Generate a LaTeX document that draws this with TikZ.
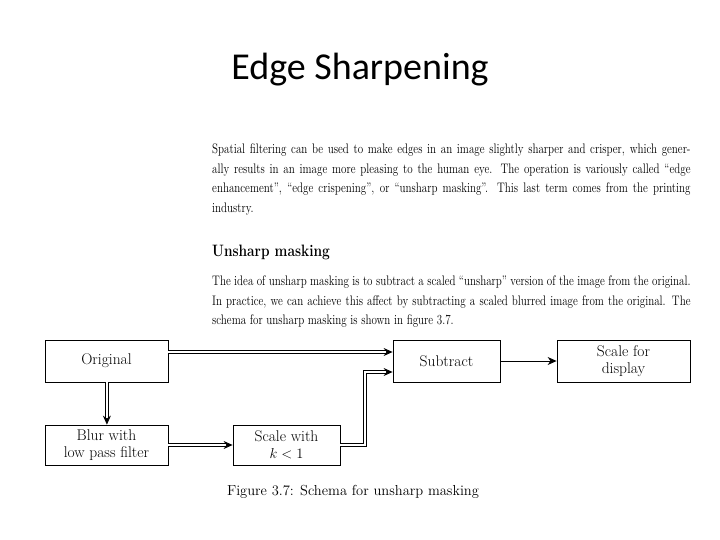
\documentclass[tikz,border=0pt]{standalone}
\usepackage{fontspec}
\usepackage{graphicx}
\newfontfamily\titlefont{Carlito}
\usetikzlibrary{positioning,arrows.meta}
\newcommand{\narrowpar}[1]{\scalebox{0.8}[1]{\parbox{598pt}{\fontsize{13.8}{19.5}\selectfont\spaceskip=0.33em plus 0.3em minus 0.1em #1}}}
\tikzset{
  blockbox/.style={draw=black,thick,minimum height=42pt,align=center,font=\fontsize{15.5}{17}\selectfont},
  flow/.style={double,double distance=2.2pt,thick,-{Stealth[length=9pt,width=8pt]}},
  paratext/.style={anchor=north west,inner sep=0pt}
}
\begin{document}
\begin{tikzpicture}[x=1pt,y=-1pt]
  \useasboundingbox (0,0) rectangle (720,540);
  \node (title) at (360,70) {\titlefont\fontsize{38}{40}\selectfont Edge Sharpening};
  % text
  \node[paratext] (intro) at (212,144) {\narrowpar{Spatial filtering can be used to make edges in an image slightly sharper and crisper, which gener-\linebreak ally results in an image more pleasing to the human eye. The operation is variously called ``edge\linebreak enhancement'', ``edge crispening'', or ``unsharp masking''. This last term comes from the printing\linebreak industry.}};
  \node[paratext] (head) at (212,245) {\scalebox{0.83}[1]{\fontsize{16.5}{18}\selectfont\bfseries Unsharp masking}};
  \node[paratext] (idea) at (212,276) {\narrowpar{The idea of unsharp masking is to subtract a scaled ``unsharp'' version of the image from the original.\linebreak In practice, we can achieve this affect by subtracting a scaled blurred image from the original. The\linebreak schema for unsharp masking is shown in figure 3.7.}};
  % blocks
  \node[blockbox,minimum width=123pt] (orig) at (106.5,361) {Original};
  \node[blockbox,minimum width=107pt] (sub) at (446.5,361) {Subtract};
  \node[blockbox,minimum width=133pt] (disp) at (623.5,361) {Scale for\\display};
  \node[blockbox,minimum width=123pt,minimum height=40pt] (blur) at (106.5,445) {Blur with\\low pass filter};
  \node[blockbox,minimum width=107pt,minimum height=40pt] (scl) at (286.5,445) {Scale with\\$k<1$};
  \coordinate (bend) at (365,445);
  % arrows
  \draw[flow] (orig.east |- 0,352) -- (sub.west |- 0,352);
  \draw[flow] (scl.east) -- (bend) -- (365,372) -- (sub.west |- 0,372);
  \draw[flow] ([xshift=0.4pt]orig.south) -- ([xshift=0.4pt]blur.north);
  \draw[flow] (blur.east) -- (scl.west);
  \draw[thick,-{Stealth[length=9pt,width=8pt]}] (sub.east) -- (disp.west);
  \node (cap) at (353,492) {\fontsize{14.5}{16}\selectfont Figure 3.7: Schema for unsharp masking};
\end{tikzpicture}
\end{document}
